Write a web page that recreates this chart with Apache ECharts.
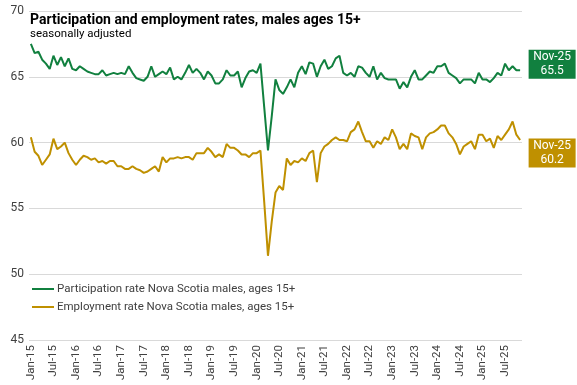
<!DOCTYPE html>
<html><head><meta charset="utf-8">
<script src="https://cdn.jsdelivr.net/npm/echarts@6/dist/echarts.min.js"></script>
<style>html,body{margin:0;padding:0;background:#fff}#c{width:577px;height:385px}</style>
</head><body><div id="c"></div>
<script>
const months = ['Jan','Feb','Mar','Apr','May','Jun','Jul','Aug','Sep','Oct','Nov','Dec'];
const categories = [];
for (let y = 15; y <= 25; y++) for (let m = 0; m < 12; m++) { if (y === 25 && m > 10) break; categories.push(months[m] + '-' + y); }

const participation = [
67.5,66.8,66.9,66.3,66.0,65.6,66.6,65.9,66.5,65.8,66.4,65.6,
65.5,65.8,65.6,65.4,65.3,65.2,65.2,65.5,65.1,65.2,65.3,65.2,
65.3,65.2,65.8,65.3,64.9,64.8,64.7,65.0,65.8,65.0,65.2,65.4,
65.2,65.7,64.8,65.0,64.8,65.3,65.9,65.3,65.6,65.3,64.8,65.4,
65.1,64.5,64.5,64.8,65.5,65.1,65.1,65.4,64.2,64.9,65.4,65.5,
65.3,66.0,62.7,59.4,62.0,64.8,64.0,63.7,64.2,64.8,64.2,65.3,
65.8,65.2,66.1,66.0,65.0,65.8,66.3,65.6,65.8,66.4,66.6,65.3,
65.1,65.3,65.0,65.8,65.7,65.3,65.0,65.8,64.8,65.3,64.9,64.8,
64.8,64.8,64.1,64.6,64.2,65.0,65.5,64.8,64.8,65.1,65.4,65.3,
65.8,65.8,66.0,65.3,65.1,64.9,64.5,64.8,64.8,64.8,64.5,65.3,
64.8,64.8,64.6,64.9,65.3,65.1,66.0,65.5,65.8,65.5,65.5];

const employment = [
60.4,59.3,59.0,58.3,58.7,59.1,60.3,59.5,59.7,60.0,59.2,58.7,
58.3,58.7,59.0,58.9,58.7,58.8,58.5,58.6,58.4,58.6,58.6,58.2,
58.2,58.0,58.0,58.2,58.0,57.9,57.7,57.8,58.0,58.2,57.8,58.9,
58.5,58.8,58.8,58.9,58.8,58.9,58.9,58.7,59.2,59.2,59.2,59.6,
59.3,58.9,59.1,58.9,59.9,59.6,59.6,59.4,59.1,59.1,58.9,59.2,
59.2,59.4,55.5,51.4,54.0,56.2,56.7,56.4,58.8,58.3,58.6,58.5,
58.8,58.6,59.2,59.4,57.0,59.2,59.7,59.9,60.2,60.4,60.2,60.2,
60.1,60.8,61.0,61.6,60.8,60.1,60.1,59.6,60.1,59.9,60.4,60.2,
61.0,60.4,59.5,59.9,59.5,60.7,60.5,60.4,59.5,60.4,60.7,60.8,
61.0,61.3,61.3,60.7,60.4,59.9,59.1,59.7,59.9,60.1,59.5,60.6,
60.6,60.1,60.3,59.6,60.5,60.2,60.6,61.0,61.6,60.6,60.2];

const yTicks = {min: 45, max: 70, interval: 5};
const seriesNames = ['Participation rate Nova Scotia males, ages 15+', 'Employment rate Nova Scotia males, ages 15+'];
const colors = ['#11803F', '#BF9000'];
const FONT = 'Roboto';

const chart = echarts.init(document.getElementById('c'), null, {renderer: 'canvas'});
const lastCat = categories[categories.length - 1];
function endLbl(color, dy) {
  return {show: true, formatter: p => lastCat + '\n' + p.value.toFixed(1),
    backgroundColor: color, color: '#fff', fontSize: 12, lineHeight: 14.5, align: 'center',
    width: 33, padding: [0, 7, 0, 7], distance: 9, offset: [23, dy], fontFamily: FONT};
}
chart.setOption({
  animation: false,
  textStyle: {fontFamily: FONT},
  title: {
    text: 'Participation and employment rates, males ages 15+',
    subtext: 'seasonally adjusted',
    left: 30, top: 13, itemGap: 1, padding: 0,
    textStyle: {fontFamily: FONT, fontSize: 14, fontWeight: 'bold', color: '#000'},
    subtextStyle: {fontFamily: FONT, fontSize: 11.5, color: '#000'}
  },
  legend: {
    orient: 'vertical', left: 32, top: 283, itemGap: 6, padding: 0,
    itemWidth: 22, itemHeight: 2, icon: 'rect',
    textStyle: {fontFamily: FONT, fontSize: 11.5, color: '#404040', padding: [0, 0, 0, -2]},
    data: seriesNames
  },
  grid: {left: 29, right: 55, top: 11, bottom: 45, containLabel: false},
  xAxis: {
    type: 'category', data: categories, boundaryGap: true,
    axisLine: {show: false}, axisTick: {show: false},
    axisLabel: {rotate: 90, interval: 5, fontSize: 11.5, color: '#404040', margin: 5, fontFamily: FONT}
  },
  yAxis: {
    type: 'value', min: yTicks.min, max: yTicks.max, interval: yTicks.interval,
    axisLine: {show: false}, axisTick: {show: false},
    axisLabel: {fontSize: 12, color: '#404040', margin: 5, fontFamily: FONT},
    splitLine: {lineStyle: {color: '#d9d9d9', width: 1}}
  },
  series: [
    {name: seriesNames[0], type: 'line', data: participation, symbol: 'none',
     lineStyle: {color: colors[0], width: 2}, itemStyle: {color: colors[0]},
     endLabel: endLbl(colors[0], -6)},
    {name: seriesNames[1], type: 'line', data: employment, symbol: 'none',
     lineStyle: {color: colors[1], width: 2}, itemStyle: {color: colors[1]},
     endLabel: endLbl(colors[1], 13)}
  ]
});
</script></body></html>
